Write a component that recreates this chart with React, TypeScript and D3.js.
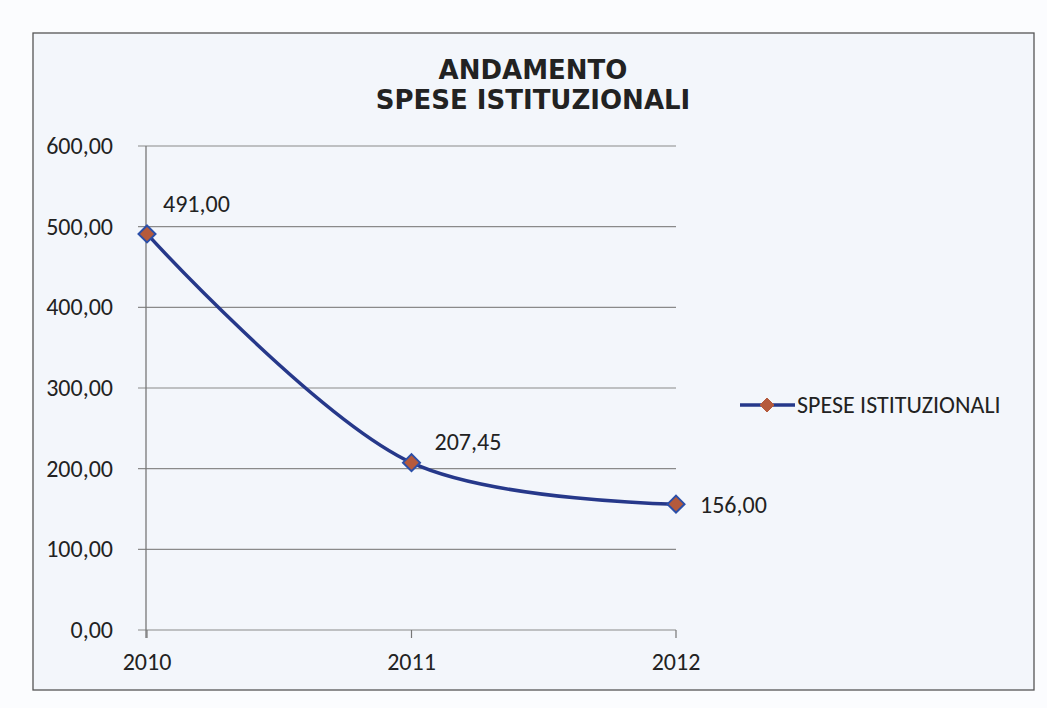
import React from "react";
import * as d3 from "d3";

const years = ["2010", "2011", "2012"];
const values = [491.0, 207.45, 156.0];
const yTicks = [0, 100, 200, 300, 400, 500, 600];
const seriesName = "SPESE ISTITUZIONALI";
const titleLines = ["ANDAMENTO", "SPESE ISTITUZIONALI"];

const W = 1047, H = 708;
const fmt = (v: number) => v.toFixed(2).replace(".", ",");

export default function App() {
  const x = d3.scalePoint<string>().domain(years).range([147, 676]);
  const y = d3.scaleLinear().domain([0, 600]).range([630, 146]);
  const pts: [number, number][] = years.map((yr, i) => [x(yr)!, y(values[i])]);
  const line = d3.line().curve(d3.curveCatmullRom.alpha(0.5))(pts) || "";
  const font = "Carlito, 'Open Sans', 'Noto Sans', sans-serif";
  const diamond = (cx: number, cy: number, r: number) =>
    `M${cx},${cy - r}L${cx + r},${cy}L${cx},${cy + r}L${cx - r},${cy}Z`;
  const labelOffsets = [[16, -30], [23, -21], [24, 1]];
  return (
    <svg width={W} height={H} style={{ position: "absolute", left: 0, top: 0, background: "#fbfcfe" }}>
      <rect x={33} y={33} width={1001} height={657} fill="#f3f6fb" stroke="#555" strokeWidth={1.3} />
      <g fontFamily="'DejaVu Sans', sans-serif" fontWeight="bold" fontSize={26} fill="#222" textAnchor="middle">
        {titleLines.map((t, i) => (
          <text key={i} x={533} y={79 + i * 30}>{t}</text>
        ))}
      </g>
      {yTicks.map((t) => (
        <g key={t}>
          <line x1={138} x2={676} y1={y(t)} y2={y(t)} stroke="#8a8a8a" strokeWidth={1.2} />
          <text x={113} y={y(t)} dy="0.33em" textAnchor="end" fontFamily={font} fontSize={24} fill="#222">{fmt(t)}</text>
        </g>
      ))}
      <line x1={146} x2={146} y1={146} y2={638} stroke="#777" strokeWidth={1.3} />
      {years.map((yr) => (
        <g key={yr}>
          <line x1={x(yr)} x2={x(yr)} y1={630} y2={638} stroke="#777" strokeWidth={1.2} />
          <text x={x(yr)} y={670} textAnchor="middle" fontFamily={font} fontSize={24} fill="#222">{yr}</text>
        </g>
      ))}
      <path d={line} fill="none" stroke="#26388a" strokeWidth={3.5} />
      {pts.map(([px, py], i) => (
        <g key={i}>
          <path d={diamond(px, py, 8.5)} fill="#b55a3c" stroke="#2b4fa8" strokeWidth={2} />
          <text x={px + labelOffsets[i][0]} y={py + labelOffsets[i][1]} dy="0.33em" fontFamily={font} fontSize={24} fill="#222">{fmt(values[i])}</text>
        </g>
      ))}
      <line x1={740} x2={795} y1={405} y2={405} stroke="#26388a" strokeWidth={3.5} />
      <path d={diamond(767, 405, 7)} fill="#b55a3c" stroke="#b55a3c" strokeWidth={1} />
      <text x={797} y={405} dy="0.33em" fontFamily={font} fontSize={24} fill="#222">{seriesName}</text>
    </svg>
  );
}
